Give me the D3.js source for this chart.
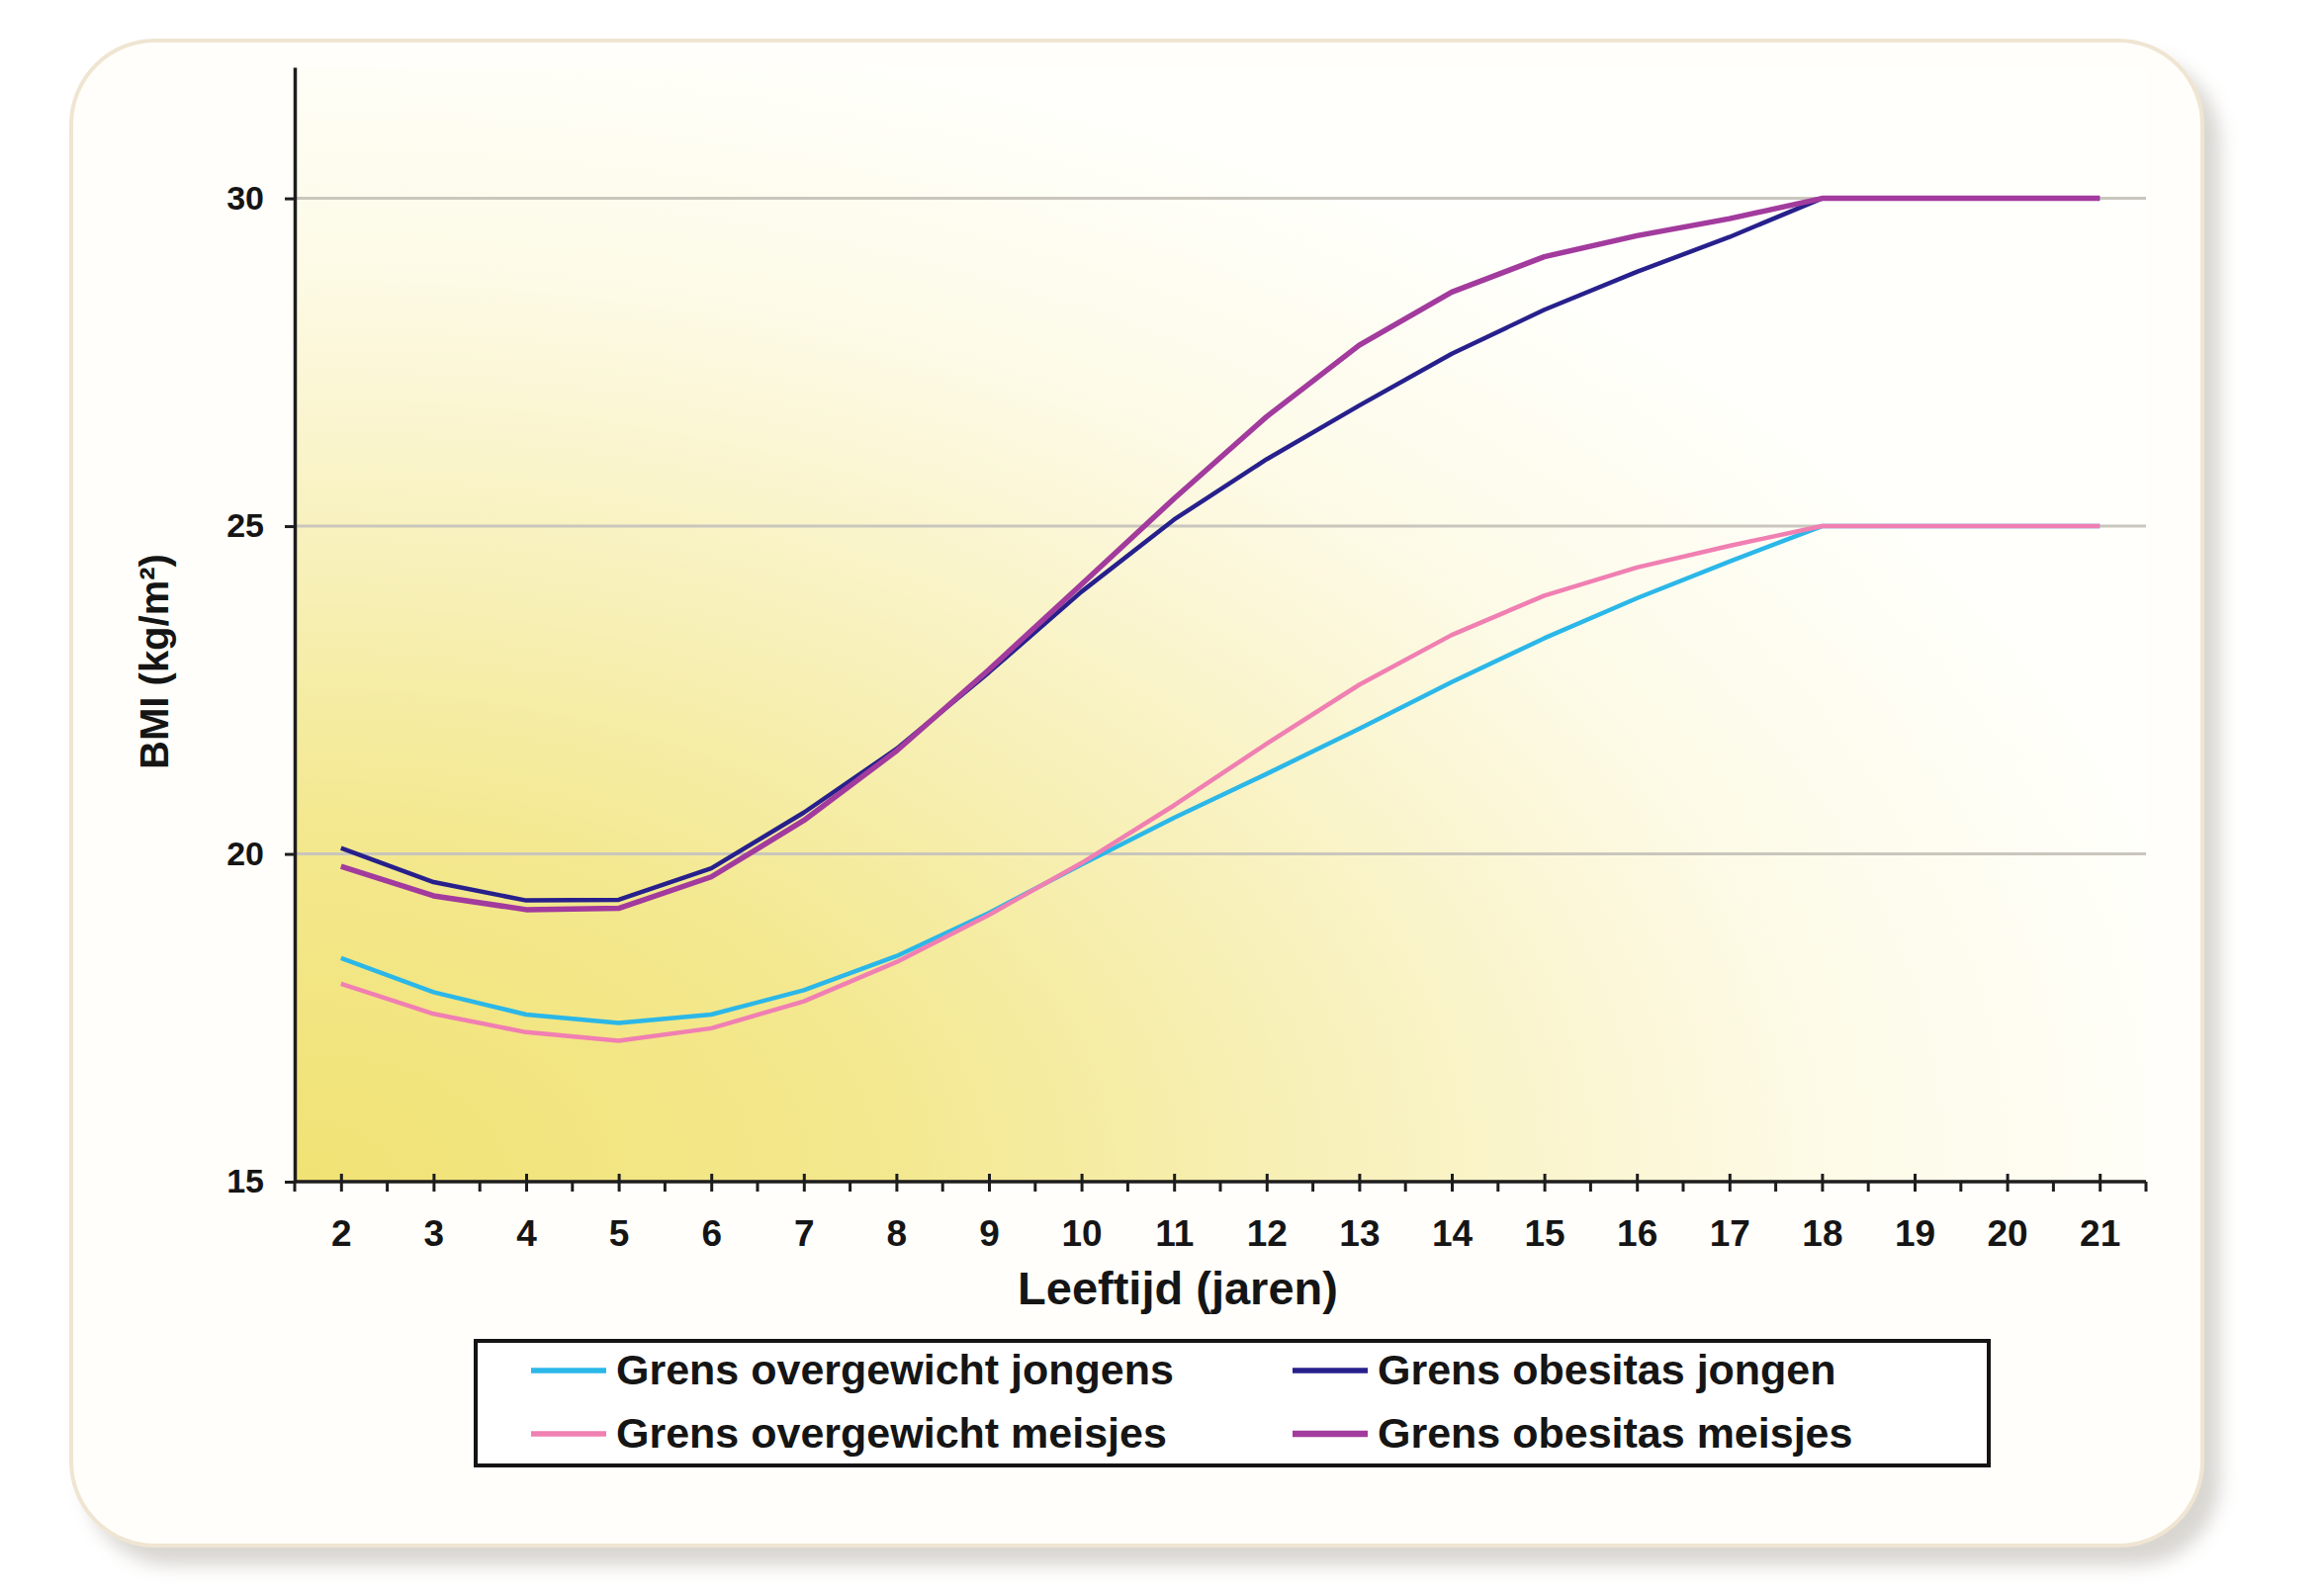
<!DOCTYPE html>
<html>
<head>
<meta charset="utf-8">
<script src="https://cdn.jsdelivr.net/npm/d3@7"></script>
<style>
    body { margin: 0; background: #ffffff; }
    svg text { font-family: "Liberation Sans", Arial, sans-serif; font-weight: bold; fill: #151515; }
</style>
</head>
<body>
<div id="bmi-chart"></div>
<script>
var ages = [2, 3, 4, 5, 6, 7, 8, 9, 10, 11, 12, 13, 14, 15, 16, 17, 18, 19, 20, 21];
var overgewichtJongens = [18.41, 17.89, 17.55, 17.42, 17.55, 17.92, 18.44, 19.10, 19.84, 20.55, 21.22, 21.91, 22.62, 23.29, 23.90, 24.46, 25, 25, 25, 25];
var obesitasJongen = [20.09, 19.57, 19.29, 19.30, 19.78, 20.63, 21.60, 22.77, 24.00, 25.10, 26.02, 26.84, 27.63, 28.30, 28.88, 29.41, 30, 30, 30, 30];
var overgewichtMeisjes = [18.02, 17.56, 17.28, 17.15, 17.34, 17.75, 18.35, 19.07, 19.86, 20.74, 21.68, 22.58, 23.34, 23.94, 24.37, 24.70, 25, 25, 25, 25];
var obesitasMeisjes = [19.81, 19.36, 19.15, 19.17, 19.65, 20.51, 21.57, 22.81, 24.11, 25.42, 26.67, 27.76, 28.57, 29.11, 29.43, 29.69, 30, 30, 30, 30];
var seriesNames = ["Grens overgewicht jongens", "Grens obesitas jongen", "Grens overgewicht meisjes", "Grens obesitas meisjes"];
var yTicks = [15, 20, 25, 30];
var gridTicks = [20, 25, 30];
var xTitle = "Leeftijd (jaren)";
var yTitle = "BMI (kg/m²)";

(function () {
    var width = 2350;
    var height = 1613;
    var seriesValues = [overgewichtJongens, obesitasJongen, overgewichtMeisjes, obesitasMeisjes];
    var seriesColors = ["#2bb7e8", "#27208c", "#f07fb2", "#a23b9d"];
    var seriesWidths = [4.5, 4.5, 4.5, 5.5];

    var svg = d3.select("#bmi-chart")
        .append("svg")
        .attr("width", width)
        .attr("height", height)
        .attr("viewBox", "0 0 " + width + " " + height);

    var defs = svg.append("defs");

    var shadow = defs.append("filter")
        .attr("id", "panel-shadow")
        .attr("x", "-5%").attr("y", "-5%")
        .attr("width", "112%").attr("height", "115%");
    shadow.append("feDropShadow")
        .attr("dx", 16).attr("dy", 18)
        .attr("stdDeviation", 9)
        .attr("flood-color", "#aaa59a")
        .attr("flood-opacity", 0.45);

    var bg = defs.append("radialGradient")
        .attr("id", "plot-bg")
        .attr("cx", 0).attr("cy", 1)
        .attr("fx", 0).attr("fy", 1)
        .attr("r", 1.05);
    [["0", "#f1e274"], ["0.3", "#f3e88e"], ["0.55", "#f8f1bd"], ["0.78", "#fdfae6"], ["1", "#fffffb"]].forEach(function (s) {
        bg.append("stop").attr("offset", s[0]).attr("stop-color", s[1]);
    });

    // card behind the chart
    svg.append("rect")
        .attr("x", 72).attr("y", 41)
        .attr("width", 2155).attr("height", 1522)
        .attr("rx", 85).attr("ry", 85)
        .attr("fill", "#fffefa")
        .attr("stroke", "#efe5d2")
        .attr("stroke-width", 4)
        .attr("filter", "url(#panel-shadow)");

    var x = d3.scalePoint()
        .domain(ages)
        .range([298, 2170])
        .padding(0.5);
    var y = d3.scaleLinear()
        .domain([15, 32])
        .range([1195, 68]);

    var x0 = x.range()[0];
    var x1 = x.range()[1];

    svg.append("rect")
        .attr("x", x0).attr("y", y(32))
        .attr("width", x1 - x0).attr("height", y(15) - y(32))
        .attr("fill", "url(#plot-bg)");

    svg.append("g")
        .selectAll("line")
        .data(gridTicks)
        .enter()
        .append("line")
        .attr("x1", x0).attr("x2", x1)
        .attr("y1", function (d) { return y(d); })
        .attr("y2", function (d) { return y(d); })
        .attr("stroke", "#c9c6bd")
        .attr("stroke-width", 3);

    // y axis
    var yAxis = svg.append("g")
        .attr("transform", "translate(" + x0 + ",0)")
        .call(d3.axisLeft(y).tickValues(yTicks).tickSize(10).tickSizeOuter(0).tickPadding(21));
    yAxis.select(".domain").attr("stroke", "#1d1d1d").attr("stroke-width", 3.5);
    yAxis.selectAll(".tick line").attr("stroke", "#1d1d1d").attr("stroke-width", 3);
    yAxis.selectAll(".tick text")
        .attr("font-size", 34)
        .attr("font-family", null)
        .attr("fill", null);

    // x axis: crossing ticks at each age, short ticks between
    var xAxis = svg.append("g")
        .attr("transform", "translate(0," + y(15) + ")")
        .call(d3.axisBottom(x).tickSize(10).tickSizeOuter(0).tickPadding(29));
    xAxis.select(".domain").attr("stroke", "#1d1d1d").attr("stroke-width", 3.5)
        .attr("d", "M" + x0 + ",0H" + x1);
    xAxis.selectAll(".tick line")
        .attr("y1", -8)
        .attr("stroke", "#1d1d1d").attr("stroke-width", 3);
    xAxis.selectAll(".tick text")
        .attr("font-size", 37)
        .attr("font-family", null)
        .attr("fill", null);

    var boundaries = ages.map(function (a) { return x(a) - x.step() / 2; }).concat([x(ages[ages.length - 1]) + x.step() / 2]);
    xAxis.append("g")
        .selectAll("line")
        .data(boundaries)
        .enter()
        .append("line")
        .attr("x1", function (d) { return d; })
        .attr("x2", function (d) { return d; })
        .attr("y1", 0).attr("y2", 10)
        .attr("stroke", "#1d1d1d").attr("stroke-width", 3);

    svg.append("text")
        .attr("x", 1191)
        .attr("y", 1319)
        .attr("text-anchor", "middle")
        .attr("font-size", 47)
        .text(xTitle);

    svg.append("text")
        .attr("transform", "translate(156,669) rotate(-90)")
        .attr("text-anchor", "middle")
        .attr("dominant-baseline", "central")
        .attr("font-size", 40)
        .text(yTitle);

    // lines
    var line = d3.line()
        .x(function (d) { return x(d.age); })
        .y(function (d) { return y(d.value); });

    var lines = svg.append("g").attr("fill", "none").attr("stroke-linejoin", "round");
    seriesValues.forEach(function (values, i) {
        var points = ages.map(function (a, j) { return { age: a, value: values[j] }; });
        lines.append("path")
            .datum(points)
            .attr("d", line)
            .attr("stroke", seriesColors[i])
            .attr("stroke-width", seriesWidths[i]);
    });

    // legend
    var legend = svg.append("g");
    legend.append("rect")
        .attr("x", 481).attr("y", 1356)
        .attr("width", 1530).attr("height", 126)
        .attr("fill", "#ffffff")
        .attr("stroke", "#141414")
        .attr("stroke-width", 4);

    var colX = [537, 1307];
    var rowY = [1386, 1450];
    seriesNames.forEach(function (name, i) {
        var lx = colX[i % 2];
        var ly = rowY[Math.floor(i / 2)];
        legend.append("line")
            .attr("x1", lx).attr("x2", lx + 76)
            .attr("y1", ly).attr("y2", ly)
            .attr("stroke", seriesColors[i])
            .attr("stroke-width", seriesWidths[i] + 1);
        legend.append("text")
            .attr("x", lx + 86)
            .attr("y", ly + 14)
            .attr("font-size", 43)
            .text(name);
    });
}());
</script>
</body>
</html>
